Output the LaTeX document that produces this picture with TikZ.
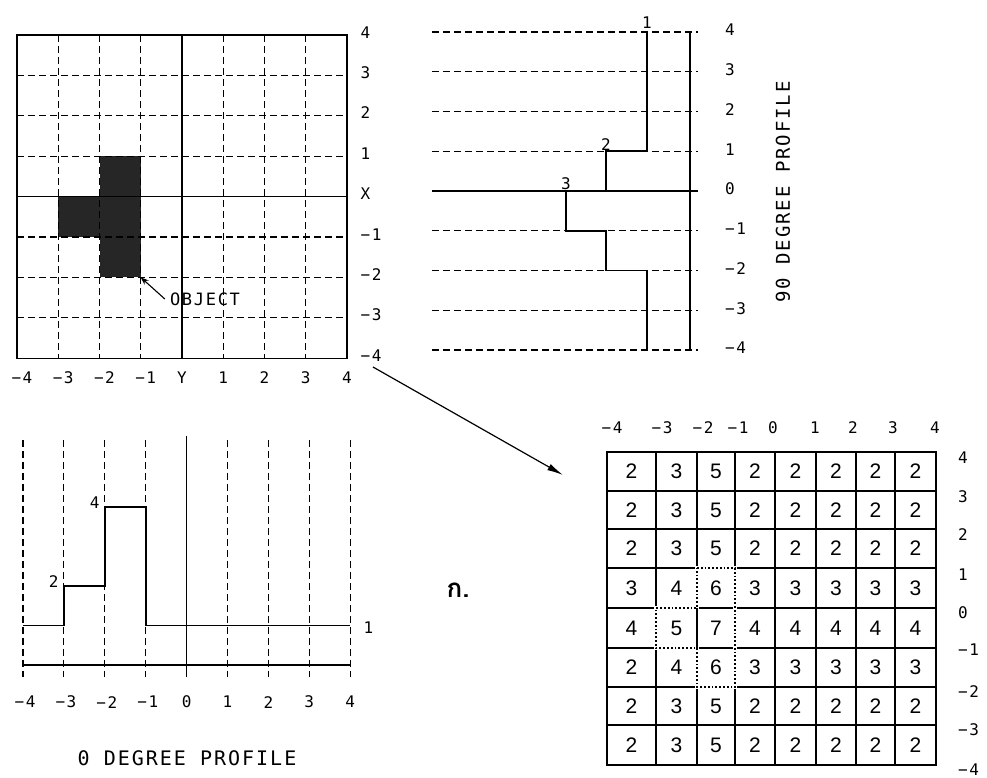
\documentclass[tikz,border=0pt]{standalone}
\usepackage{fontspec}
\setmainfont{DejaVu Sans}
\newfontfamily\plotfont[LetterSpace=10]{DejaVu Sans Mono}
\newfontfamily\cellfont{Liberation Sans}
\newfontfamily\thaifont[Script=Thai]{Loma}
\usetikzlibrary{arrows.meta}

\begin{document}
\begin{tikzpicture}[
  x=1pt, y=-1pt,
  >=Stealth,
  solidln/.style={line width=1.1pt},
  dashln/.style={line width=1.1pt, dash pattern=on 7pt off 4pt},
  profln/.style={line width=1.6pt},
  cellln/.style={line width=1.3pt},
  lbl/.style={font=\plotfont\fontsize{16}{16}\selectfont, inner sep=1pt},
  ttl/.style={font=\plotfont\fontsize{20}{20}\selectfont, inner sep=0pt},
  cellnum/.style={font=\cellfont\fontsize{21}{21}\selectfont, inner sep=0pt}
]
\useasboundingbox (0,0) rectangle (987,778);

% top left: object on the grid
\begin{scope}[shift={(17,35)}, x=41.25pt, y=-40.4pt]
  \fill[black!85] (2,3) rectangle (3,6);
  \fill[black!85] (1,4) rectangle (2,5);
  \foreach \i in {1,2,3,5,6,7} \draw[dashln] (\i,0) -- (\i,8);
  \foreach \j in {1,2,3,5,6,7} \draw[dashln] (0,\j) -- (8,\j);
  \draw[solidln] (4,0) -- (4,8);
  \draw[solidln] (0,4) -- (8,4);
  \draw[solidln] (0,0) rectangle (8,8);
  \coordinate (objcorner) at (3,6);
  \foreach \j/\t in {0/4,1/3,2/2,3/1,4/X,5/−1,6/−2,7/−3,8/−4}
    \node[lbl, anchor=west] (gy\j) at (8.3,\j-0.07) {\t};
  \foreach \i/\t in {0/−4,1/−3,2/−2,3/−1}
    \node[lbl] (gx\i) at (\i+0.12,8.47) {\t};
  \foreach \i/\t in {4/Y,5/1,6/2,7/3,8/4}
    \node[lbl] (gx\i) at (\i,8.47) {\t};
\end{scope}
\node[lbl, font=\plotfont\fontsize{17}{17}\selectfont, inner sep=5pt] (objlbl) at (205,299) {OBJECT};
\draw[->, solidln] (objlbl.west) -- (objcorner);

% top right: 90 degree profile
\begin{scope}[shift={(0,32)}, y=-39.75pt]
  \foreach \j in {0,1,2,3,5,6,7,8} \draw[dashln] (432,\j) -- (698,\j);
  \draw[solidln] (432,4) -- (698,4);
  \draw[solidln] (690,0) -- (690,8);
  \draw[profln] (647,0) -- (647,3) -- (606,3) -- (606,4) -- (566,4)
    -- (566,5) -- (606,5) -- (606,6) -- (647,6) -- (647,8);
  \node[lbl, anchor=south] (p90a) at (647,-0.05) {1};
  \node[lbl, anchor=south] (p90b) at (606,3) {2};
  \node[lbl, anchor=south] (p90c) at (566,4) {3};
  \foreach \j/\t in {0/4,1/3,2/2,3/1,4/0,5/−1,6/−2,7/−3,8/−4}
    \node[lbl, anchor=west] (py\j) at (724,\j-0.05) {\t};
\end{scope}
\node[ttl, font=\plotfont\fontsize{19}{19}\selectfont, rotate=90] (prof90) at (783,192) {90 DEGREE PROFILE};

% bottom left: 0 degree profile
\begin{scope}[shift={(23,665)}, x=40.9pt, y=39.5pt]
  \foreach \i in {0,1,2,3,5,6,7,8} \draw[dashln] (\i,5.7) -- (\i,-0.3);
  \draw[solidln] (4,5.8) -- (4,-0.3);
  \draw[solidln] (0,0) -- (8,0);
  \draw[profln] (0,1) -- (1,1) -- (1,2) -- (2,2) -- (2,4) -- (3,4) -- (3,1) -- (8,1);
  \node[lbl, anchor=east] (p0a) at (0.9,2.1) {2};
  \node[lbl, anchor=east] (p0b) at (1.9,4.1) {4};
  \node[lbl, anchor=west] (p0c) at (8.3,0.95) {1};
  \foreach \i/\t in {0/−4,1/−3,2/−2,3/−1}
    \node[lbl] (px\i) at (\i+0.05,-0.94) {\t};
  \foreach \i/\t in {4/0,5/1,6/2,7/3,8/4}
    \node[lbl] (px\i) at (\i,-0.94) {\t};
\end{scope}
\node[ttl] (prof0) at (187,758) {0 DEGREE PROFILE};

% arrow to the summed grid
\coordinate (arrtail) at (373,367);
\coordinate (arrhead) at (563,475);
\draw[-{Latex[length=16pt,width=7pt]}, line width=1.2pt] (arrtail) -- (arrhead);

\node[font=\thaifont\bfseries\fontsize{26}{26}\selectfont] (kmark) at (458,590) {ก.};

% bottom right: summed grid
\foreach \x in {656,697,735,775,816,856,895} \draw[cellln] (\x,452) -- (\x,765);
\foreach \y in {491,529,568,608,648,687,725} \draw[cellln] (607,\y) -- (936,\y);
\draw[cellln] (607,452) rectangle (936,765);
\draw[white, line width=3.5pt] (697,568) -- (735,568) -- (735,687) -- (697,687)
  -- (697,648) -- (656,648) -- (656,608) -- (697,608) -- cycle;
\draw[line width=1.8pt, dotted] (697,568) -- (735,568) -- (735,687) -- (697,687)
  -- (697,648) -- (656,648) -- (656,608) -- (697,608) -- cycle;
\draw[cellln] (697,608) -- (697,648);
\foreach \r/\yc/\vals in {1/471.5/{2,3,5,2,2,2,2,2}, 2/510/{2,3,5,2,2,2,2,2},
    3/548.5/{2,3,5,2,2,2,2,2}, 4/588/{3,4,6,3,3,3,3,3}, 5/628/{4,5,7,4,4,4,4,4},
    6/667.5/{2,4,6,3,3,3,3,3}, 7/706/{2,3,5,2,2,2,2,2}, 8/745/{2,3,5,2,2,2,2,2}}
  \foreach \v [count=\c] in \vals {
    \pgfmathsetmacro\xc{{631.5,676.5,716,755,795.5,836,875.5,915.5}[\c-1]}
    \node[cellnum] (n\r\c) at (\xc,\yc) {\v};
  };
\foreach \x/\t [count=\k] in {612/−4,662/−3,703/−2,738/−1,773/0,815/1,853/2,893/3,935/4}
  \node[lbl] (bt\k) at (\x,428) {\t};
\foreach \y/\t [count=\k] in {458/4,497/3,535/2,575/1,613/0,650/−1,692/−2,730/−3,770/−4}
  \node[lbl, anchor=west] (br\k) at (957,\y) {\t};
\end{tikzpicture}
\end{document}
